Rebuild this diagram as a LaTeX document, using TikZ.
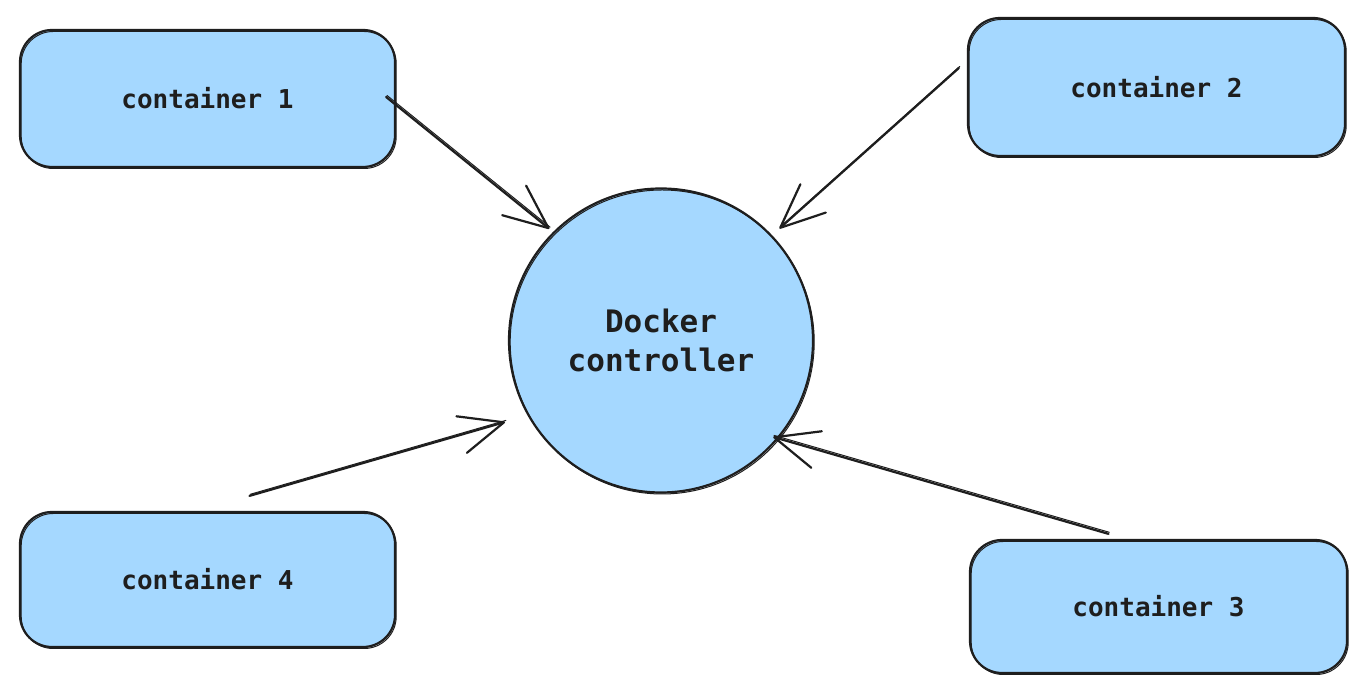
\documentclass[tikz,border=0pt]{standalone}
\usepackage{fontspec}
\setmonofont{DejaVu Sans Mono}
\usetikzlibrary{arrows.meta,calc}

\definecolor{boxfill}{HTML}{A5D8FF}
\definecolor{ink}{HTML}{1E1E1E}

\tikzset{
    cbox/.style={rectangle, draw=ink, fill=boxfill, line width=2.2pt, rounded corners=32pt,
        font=\fontsize{26}{38}\selectfont\ttfamily\bfseries, text=ink,
        postaction={draw=ink, line width=1pt, transform canvas={shift={(1.2pt,-1.5pt)}}}},
    link/.style={draw=ink, line width=2.2pt, line cap=round,
        -{Straight Barb[length=44pt, width=38pt, line width=2.2pt, round]},
        postaction={draw=ink, line width=1pt, -, transform canvas={shift={(0.8pt,1.6pt)}}}}
}

\begin{document}
\begin{tikzpicture}[x=1pt, y=1pt]
    \useasboundingbox[fill=white] (0,0) rectangle (1366,695);

    \node[cbox, minimum width=375pt, minimum height=137pt] (c1) at (207.5,596.5) {container 1};
    \node[cbox, minimum width=377pt, minimum height=138pt] (c2) at (1156.5,608) {container 2};
    \node[cbox, minimum width=377pt, minimum height=133pt] (c3) at (1158.5,88.5) {container 3};
    \node[cbox, minimum width=375pt, minimum height=135pt] (c4) at (207.5,115.5) {container 4};

    \node[cbox, circle, minimum size=304pt, align=center, font=\fontsize{31}{39}\selectfont\ttfamily\bfseries] (dc) at (661,354.5) {Docker\\controller};

    \draw[link] ([xshift=-10pt,yshift=1.5pt]c1.east) -- ($(dc.center)+(135:158)$);
    \draw[link] ([xshift=-8pt,yshift=19pt]c2.west) -- ($(dc.center)+(43.4:163)$);
    \draw[link] ([xshift=-50pt,yshift=5pt]c3.north) -- ($(dc.center)+(-40.7:148)$);
    \draw[link] ([xshift=42pt,yshift=15pt]c4.north) -- ($(dc.center)+(207.6:176)$);
\end{tikzpicture}
\end{document}
